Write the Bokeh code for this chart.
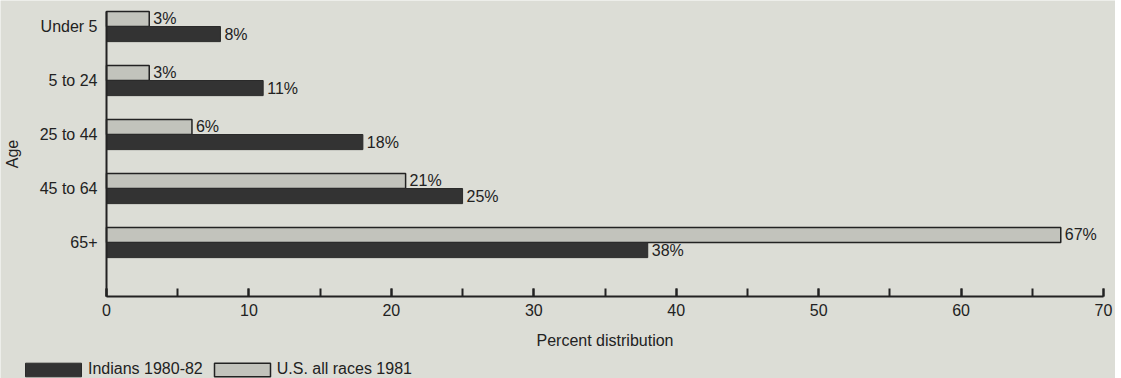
from bokeh.plotting import figure
from bokeh.models import (ColumnDataSource, FixedTicker, SingleIntervalTicker, Range1d,
                          Legend, LegendItem, LinearAxis)
from bokeh.core.properties import value
from bokeh.embed import file_html
from bokeh.resources import INLINE

ages = ["Under 5", "5 to 24", "25 to 44", "45 to 64", "65+"]
indians = [8, 11, 18, 25, 38]
us_all = [3, 3, 6, 21, 67]
series_names = ["Indians 1980-82", "U.S. all races 1981"]

FONT = "Liberation Sans"
FS = "16px"
BG = "#dcddd6"
DARK = "#333333"
LIGHT = "#c2c3bc"
INK = "#222222"

n = len(ages)
pos = [n - i for i in range(n)]  # Under 5 at top
bh = 0.28

src = ColumnDataSource(dict(
    pos=pos,
    y_light=[p_ + bh / 2 for p_ in pos],
    y_dark=[p_ - bh / 2 for p_ in pos],
    ind=indians,
    us=us_all,
    ind_lab=[f"{v}%" for v in indians],
    us_lab=[f"{v}%" for v in us_all],
))

# The frame fills the whole canvas; axes are pinned at 0 so the legend
# can sit in the lower-left corner like the original.
W, H = 1115, 378
x0_px, x70_px = 106, 1103
ppx = (x70_px - x0_px) / 70.0
y0_px, ppy = 296, 54.0

p = figure(width=W, height=H, output_backend="svg", toolbar_location=None,
           x_range=Range1d(-x0_px / ppx, 70 + (W - x70_px) / ppx),
           y_range=Range1d(-(H - y0_px) / ppy, y0_px / ppy),
           x_axis_location=None, y_axis_location=None,
           min_border_left=0, min_border_right=0, min_border_top=0,
           min_border_bottom=0)
p.background_fill_color = BG
p.border_fill_color = BG
p.outline_line_color = None
p.grid.visible = False

light_style = dict(fill_color=LIGHT, line_color=INK, line_width=1.5)
dark_style = dict(fill_color=DARK, line_color="#2a2a2a", line_width=1)

light = p.hbar(y="y_light", right="us", left=0, height=bh, source=src, **light_style)
dark = p.hbar(y="y_dark", right="ind", left=0, height=bh, source=src, **dark_style)

p.text(x="us", y="y_light", text="us_lab", source=src, x_offset=4,
       text_baseline="middle", text_font=value(FONT), text_font_size=FS,
       text_color=INK)
p.text(x="ind", y="y_dark", text="ind_lab", source=src, x_offset=4,
       text_baseline="middle", text_font=value(FONT), text_font_size=FS,
       text_color=INK)

# x axis
xa = LinearAxis(fixed_location=0, bounds=(0, 70))
xa.ticker = SingleIntervalTicker(interval=10, num_minor_ticks=2)
xa.major_tick_in = 8
xa.major_tick_out = 0
xa.minor_tick_in = 8
xa.minor_tick_out = 0
xa.axis_line_width = 2
xa.axis_line_color = INK
xa.major_tick_line_color = INK
xa.minor_tick_line_color = INK
xa.major_tick_line_width = 2
xa.minor_tick_line_width = 2
xa.major_label_standoff = 7
xa.major_label_text_font = FONT
xa.major_label_text_font_size = FS
xa.major_label_text_color = INK
xa.axis_label = "Percent distribution"
xa.axis_label_text_font = FONT
xa.axis_label_text_font_size = FS
xa.axis_label_text_font_style = "normal"
xa.axis_label_text_color = INK
xa.axis_label_standoff = 13
p.add_layout(xa, "below")

# y axis
ya = LinearAxis(fixed_location=0, bounds=(0, 5.28))
ya.ticker = FixedTicker(ticks=pos)
ya.major_label_overrides = {p_: a for p_, a in zip(pos, ages)}
ya.major_tick_line_color = None
ya.minor_tick_line_color = None
ya.major_tick_out = 0
ya.major_tick_in = 0
ya.minor_tick_out = 0
ya.minor_tick_in = 0
ya.axis_line_width = 2
ya.axis_line_color = INK
ya.major_label_standoff = 9
ya.major_label_text_font = FONT
ya.major_label_text_font_size = FS
ya.major_label_text_color = INK
ya.axis_label = "Age"
ya.axis_label_text_font = FONT
ya.axis_label_text_font_size = FS
ya.axis_label_text_font_style = "normal"
ya.axis_label_text_color = INK
ya.axis_label_standoff = 16
p.add_layout(ya, "left")

legend = Legend(items=[LegendItem(label=series_names[0], renderers=[dark]),
                       LegendItem(label=series_names[1], renderers=[light])],
                orientation="horizontal", location=(18, 0),
                glyph_width=70, glyph_height=17, label_height=17,
                label_standoff=0, spacing=4, padding=0, margin=0,
                border_line_alpha=0, background_fill_alpha=0,
                label_text_font=FONT, label_text_font_size=FS,
                label_text_color=INK)
p.add_layout(legend, "center")

open("out.html", "w").write(file_html(p, INLINE))
